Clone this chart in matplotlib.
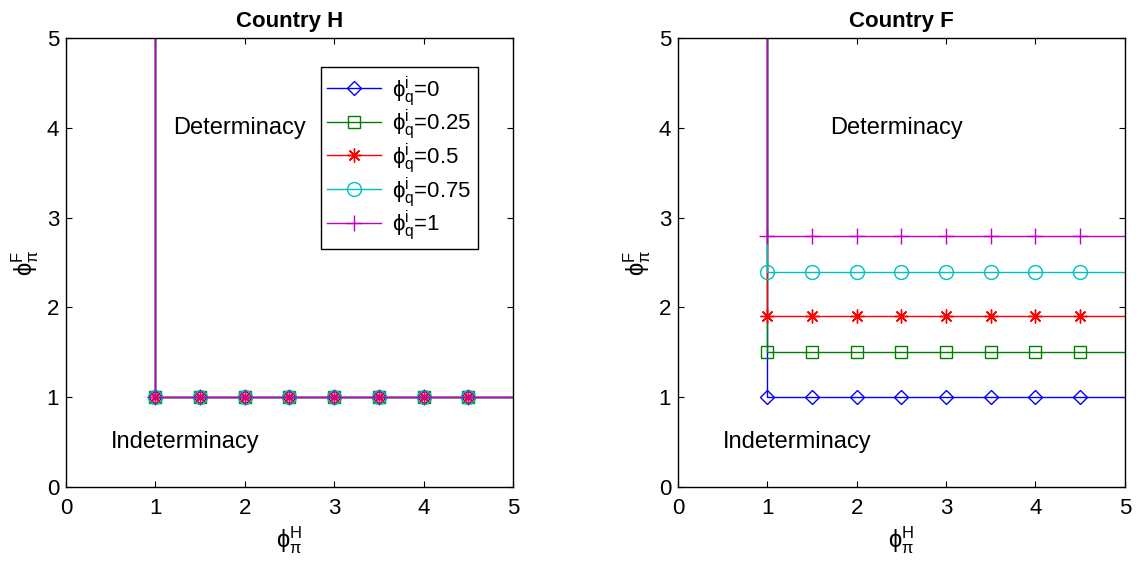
import numpy as np
import matplotlib
matplotlib.use("Agg")
import matplotlib.pyplot as plt

# =============================================================================
# DATA
# =============================================================================
PHI_Q_LABELS = ["0", "0.25", "0.5", "0.75", "1"]
MARKER_X = [1.0, 1.5, 2.0, 2.5, 3.0, 3.5, 4.0, 4.5]
BOUND_H = [1.0, 1.0, 1.0, 1.0, 1.0]          # country H boundary for each phi_q
BOUND_F = [1.0, 1.5, 1.9, 2.4, 2.8]          # country F boundary for each phi_q
X_THRESHOLD = 1.0
AX_MAX = 5.0
# =============================================================================

COLORS = ["#0000ff", "#008000", "#ff0000", "#00bfbf", "#c000c0"]
MARKERS = ["D", "s", (8, 2, 0), "o", "+"]
MSIZES = [7, 8, 10, 10, 12]

plt.rcParams["font.family"] = ["Liberation Sans", "DejaVu Sans"]
plt.rcParams["mathtext.fontset"] = "custom"
plt.rcParams["mathtext.rm"] = "Liberation Sans"
plt.rcParams["mathtext.it"] = "Liberation Sans"


def draw_panel(ax, bounds, title, det_xy, indet_xy, legend=False):
    for val, lab, col, mk, ms in zip(bounds, PHI_Q_LABELS, COLORS, MARKERS, MSIZES):
        # boundary: vertical at phi_pi^H = 1 then horizontal at val
        xs = [X_THRESHOLD, X_THRESHOLD] + MARKER_X[1:] + [AX_MAX]
        ys = [AX_MAX, val] + [val] * (len(MARKER_X) - 1) + [val]
        ax.plot(xs, ys, color=col, lw=1.0,
                marker=mk, ms=ms, mfc="none", mec=col, mew=1.0,
                markevery=list(range(1, len(MARKER_X) + 1)),
                label=r"$\mathrm{\phi}_q^{i}$=" + lab)

    ax.set_xlim(0, AX_MAX)
    ax.set_ylim(0, AX_MAX)
    ax.set_xticks(np.arange(0, 6))
    ax.set_yticks(np.arange(0, 6))
    ax.tick_params(direction="in", top=True, right=True, length=4, labelsize=16)
    ax.tick_params(axis="x", pad=8)
    ax.tick_params(axis="y", pad=5)
    for s in ax.spines.values():
        s.set_linewidth(1.0)
    ax.set_title(title, fontsize=16, fontweight="bold", pad=8)
    ax.set_xlabel(r"$\mathrm{\phi}_\pi^H$", fontsize=17, labelpad=4)
    ax.set_ylabel(r"$\mathrm{\phi}_\pi^F$", fontsize=17, labelpad=4)
    ax.text(det_xy[0], det_xy[1], "Determinacy", fontsize=17, va="center", ha="left")
    ax.text(indet_xy[0], indet_xy[1], "Indeterminacy", fontsize=17, va="center", ha="left")

    if legend:
        leg = ax.legend(loc="upper left", bbox_to_anchor=(0.57, 0.935), borderaxespad=0,
                        fancybox=False, edgecolor="black", framealpha=1, fontsize=16,
                        handlelength=2.4, labelspacing=0.0, borderpad=0.3, handletextpad=0.5)
        leg.get_frame().set_linewidth(1.0)


fig = plt.figure(figsize=(11.4, 5.69), dpi=100)
ax_h = fig.add_axes([0.0579, 0.144, 0.392, 0.789])
ax_f = fig.add_axes([0.5947, 0.144, 0.392, 0.789])

draw_panel(ax_h, BOUND_H, "Country H", (1.2, 4.0), (0.5, 0.5), legend=True)
draw_panel(ax_f, BOUND_F, "Country F", (1.7, 4.0), (0.5, 0.5))

fig.savefig("out.png", dpi=100)
